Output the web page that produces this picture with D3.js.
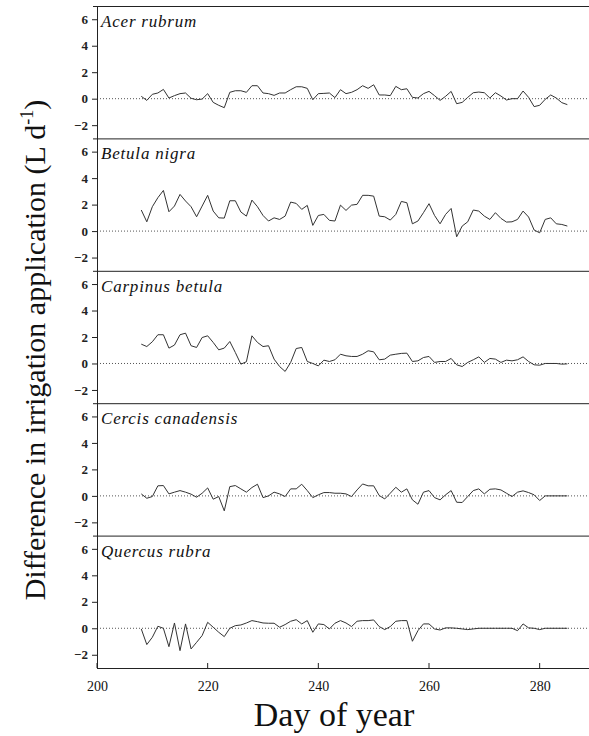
<!DOCTYPE html>
<html><head><meta charset="utf-8">
<script src="https://cdn.jsdelivr.net/npm/d3@7"></script>
<style>body{margin:0;background:#fff}svg{display:block}</style>
</head><body>
<script>
const days = [208,209,210,211,212,213,214,215,216,217,218,219,220,221,222,223,224,225,226,227,228,229,230,231,232,233,234,235,236,237,238,239,240,241,242,243,244,245,246,247,248,249,250,251,252,253,254,255,256,257,258,259,260,261,262,263,264,265,266,267,268,269,270,271,272,273,274,275,276,277,278,279,280,281,282,283,284,285];
const species = ["Acer rubrum","Betula nigra","Carpinus betula","Cercis canadensis","Quercus rubra"];
const acer = [0.18,-0.13,0.33,0.43,0.7,0.05,0.23,0.38,0.43,0.03,-0.08,-0.03,0.38,-0.28,-0.5,-0.68,0.48,0.6,0.6,0.48,0.98,0.98,0.43,0.38,0.25,0.43,0.43,0.68,0.9,0.9,0.78,-0.08,0.38,0.4,0.43,0.08,0.68,0.38,0.48,0.68,0.98,0.78,1.05,0.28,0.28,0.23,0.93,0.68,0.75,0.1,0.05,0.38,0.55,0.23,-0.13,0.18,0.55,-0.38,-0.28,0.1,0.45,0.5,0.45,0.05,0.45,0.2,-0.1,0.0,0.0,0.58,0.1,-0.6,-0.5,-0.05,0.28,0.05,-0.3,-0.45];
const betula = [1.59,0.7,1.84,2.52,3.07,1.46,1.89,2.77,2.27,1.84,1.08,1.89,2.7,1.51,1.0,0.98,2.29,2.29,1.44,1.13,2.34,1.84,1.18,0.76,1.0,0.88,1.13,2.19,2.09,1.64,1.94,0.43,1.18,1.26,0.81,0.76,1.96,1.56,1.96,2.02,2.7,2.7,2.64,1.13,1.08,0.83,1.26,2.24,2.14,0.55,0.76,1.39,2.07,1.18,0.55,1.26,1.71,-0.43,0.38,0.7,1.59,1.51,1.13,0.88,1.39,0.96,0.68,0.7,0.88,1.51,1.06,0.08,-0.13,0.88,1.0,0.55,0.5,0.38];
const carpinus = [1.46,1.28,1.64,2.17,2.17,1.16,1.39,2.17,2.29,1.34,1.21,1.96,2.09,1.59,1.03,1.16,1.66,0.83,-0.05,0.13,2.09,1.59,1.28,1.34,0.33,-0.23,-0.6,0.08,1.13,1.21,0.15,0.0,-0.18,0.25,0.15,0.28,0.7,0.58,0.53,0.53,0.7,0.96,0.88,0.28,0.33,0.63,0.7,0.76,0.78,0.15,0.2,0.45,0.53,0.08,0.15,0.15,0.38,-0.1,-0.23,0.08,0.28,0.5,0.08,0.38,0.33,0.08,0.25,0.2,0.28,0.5,0.15,-0.1,-0.13,0.0,0.0,0.0,-0.05,-0.03];
const cercis = [0.15,-0.18,-0.05,0.76,0.78,0.15,0.28,0.4,0.28,0.13,-0.1,0.2,0.6,-0.25,-0.05,-1.13,0.7,0.78,0.53,0.28,0.63,0.88,-0.13,0.0,0.28,0.15,-0.05,0.53,0.53,0.88,0.4,-0.13,0.08,0.25,0.25,0.2,0.2,0.15,-0.05,0.45,0.9,0.76,0.76,0.03,-0.23,0.2,0.65,0.28,0.53,-0.3,-0.63,0.28,0.4,-0.13,-0.3,0.08,0.4,-0.48,-0.5,-0.05,0.4,0.53,0.15,0.5,0.53,0.45,0.2,-0.05,0.28,0.38,0.25,0.08,-0.35,0.0,0.0,0.0,0.0,0.0];
const quercus = [-0.05,-1.23,-0.68,0.15,0.0,-1.39,0.4,-1.69,0.33,-1.56,-1.06,-0.55,0.45,0.08,-0.3,-0.63,0.0,0.2,0.25,0.4,0.58,0.5,0.4,0.38,0.38,0.08,0.28,0.53,0.65,0.33,0.58,-0.3,0.33,0.28,-0.05,0.38,0.58,0.4,0.13,0.53,0.58,0.58,0.63,0.13,-0.1,0.13,0.53,0.58,0.58,-0.98,-0.18,0.33,0.33,-0.05,-0.13,0.03,0.03,0.0,-0.05,-0.1,-0.05,0.0,0.0,0.0,0.0,0.0,0.0,0.0,-0.18,0.33,0.03,0.0,-0.1,0.0,0.0,0.0,0.0,0.0];
const yTicks = [-2,0,2,4,6];
const xTicks = [200,220,240,260,280];
const xLabel = "Day of year";
const yLabel = "Difference in irrigation application (L d";

const series = [acer, betula, carpinus, cercis, quercus];
const W = 589, H = 736;
const mLeft = 97, mRight = 595, mTop = 6, mBottom = 668;
const ph = (mBottom - mTop) / species.length;

const svg = d3.select("body").append("svg").attr("width", W).attr("height", H);
const x = d3.scaleLinear().domain([200, 290]).range([mLeft, mRight]);
const serif = "'Liberation Serif','Times New Roman',serif";

series.forEach((vals, i) => {
  const y0 = mTop + i * ph;
  const y = d3.scaleLinear().domain([-3, 7]).range([y0 + ph, y0]);
  const g = svg.append("g");
  g.append("line").attr("x1", mLeft - 4).attr("x2", W).attr("y1", y0 + 0.5).attr("y2", y0 + 0.5)
    .attr("stroke", "#222").attr("stroke-width", 1);
  const ax = g.append("g").attr("transform", `translate(${mLeft},0)`)
    .call(d3.axisLeft(y).tickValues(yTicks).tickSize(5).tickPadding(4).tickFormat(d3.format("d")));
  ax.select(".domain").remove();
  ax.selectAll("line").attr("stroke", "#222");
  ax.selectAll("text").attr("font-family", serif).attr("font-weight", "bold")
    .attr("font-size", 13).attr("fill", "#222");
  g.append("line").attr("x1", mLeft).attr("x2", W).attr("y1", y(0)).attr("y2", y(0))
    .attr("stroke", "#555").attr("stroke-width", 1).attr("stroke-dasharray", "1,2");
  const line = d3.line().x((d, j) => x(days[j])).y(d => y(d));
  g.append("path").datum(vals).attr("d", line).attr("fill", "none")
    .attr("stroke", "#333").attr("stroke-width", 1);
  g.append("text").attr("x", mLeft + 4).attr("y", y0 + 21).text(species[i])
    .attr("font-family", serif).attr("font-style", "italic").attr("font-size", 17)
    .attr("letter-spacing", 0.8).attr("fill", "#111");
});

svg.append("line").attr("x1", mLeft + 0.5).attr("x2", mLeft + 0.5).attr("y1", mTop).attr("y2", mBottom)
  .attr("stroke", "#222").attr("stroke-width", 1);

const bx = svg.append("g").attr("transform", `translate(0,${mBottom})`)
  .call(d3.axisBottom(x).tickValues(xTicks).tickSize(0).tickPadding(13).tickFormat(d3.format("d")));
bx.select(".domain").attr("d", `M${mLeft},0.5H${W}`).attr("stroke", "#222");
bx.selectAll("text").attr("font-family", serif).attr("font-size", 14).attr("fill", "#111");
svg.append("g").selectAll("line").data(xTicks).join("line")
  .attr("x1", d => x(d)).attr("x2", d => x(d)).attr("y1", mBottom).attr("y2", mBottom - 5)
  .attr("stroke", "#222");

svg.append("text").attr("x", 334).attr("y", 726).attr("text-anchor", "middle")
  .attr("font-family", serif).attr("font-size", 34).attr("fill", "#111").text(xLabel);
const yt = svg.append("text").attr("transform", "translate(45,350) rotate(-90)")
  .attr("text-anchor", "middle").attr("font-family", serif).attr("font-size", 30).attr("fill", "#111");
yt.append("tspan").text(yLabel);
yt.append("tspan").attr("dy", -12).attr("font-size", 18).text("-1");
yt.append("tspan").attr("dy", 12).text(")");
</script>
</body></html>
